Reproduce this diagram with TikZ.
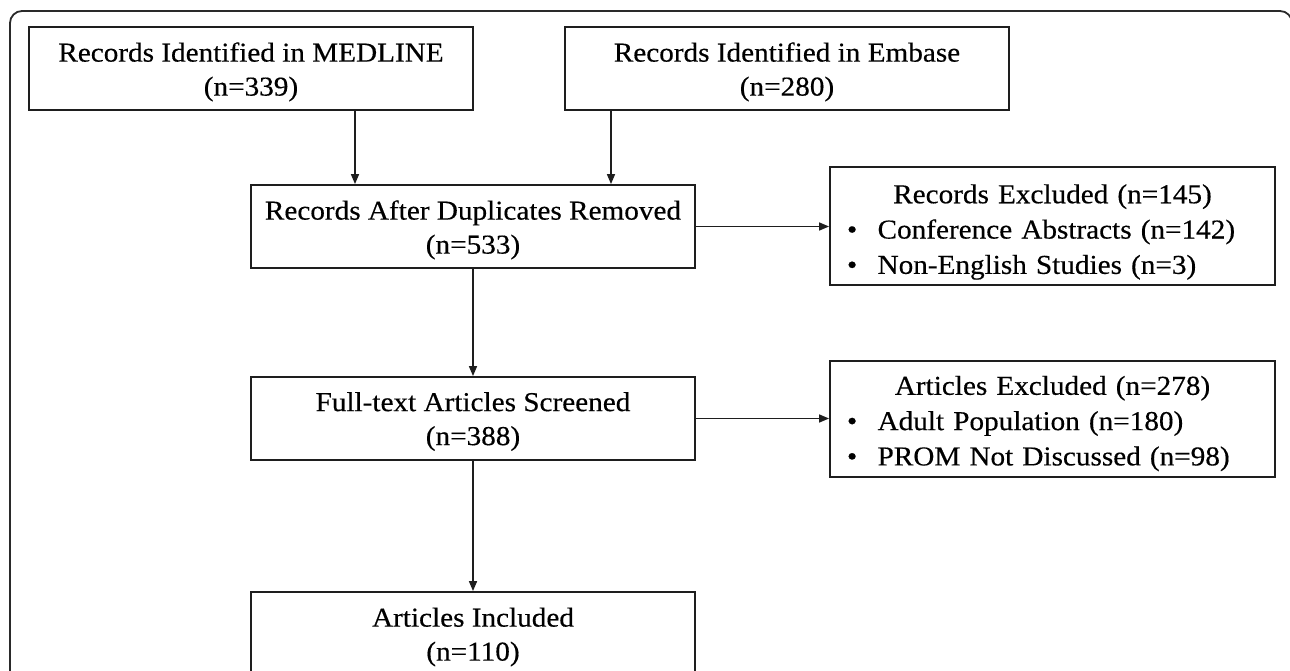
\documentclass[tikz,border=0pt]{standalone}
\usepackage{fontspec}
\setmainfont{Liberation Serif}[FakeStretch=1.07,FakeBold=0.4]
\usetikzlibrary{arrows.meta,calc}
\definecolor{lin}{HTML}{1E1E1E}
\definecolor{frm}{HTML}{2A2A2A}
\newcommand{\firstup}[1]{\rule{0pt}{#1}}
\begin{document}
\begin{tikzpicture}[x=1pt,y=-1pt,
  mainbox/.style={draw=lin, line width=1.8pt, minimum width=444pt, minimum height=83pt,
    align=center, inner sep=0pt, font=\fontsize{27.3}{34}\selectfont},
  exbox/.style={draw=lin, line width=1.8pt, minimum width=445pt, text width=411pt,
    inner xsep=17pt, inner ysep=0pt, align=left, font=\fontsize{27.3}{35.3}\selectfont},
  arr/.style={draw=lin, line width=1.6pt, -{Triangle[length=10pt,width=8pt]}},
  frame/.style={draw=frm, line width=1.8pt, rounded corners=12pt}]
\useasboundingbox (0,0) rectangle (1290,671);
\clip (0,0) rectangle (1290,671);
\draw[frame] (10,720) -- (10,11) -- (1292,11) -- (1292,720);
\node[mainbox] (med) at (251,68.5) {\firstup{26pt}Records Identified in MEDLINE\\(n=339)};
\node[mainbox] (emb) at (787,68.5) {\firstup{26pt}Records Identified in Embase\\(n=280)};
\node[mainbox] (dup) at (473,226.5) {\firstup{26pt}Records After Duplicates Removed\\(n=533)};
\node[mainbox] (ft) at (473,418.5) {\firstup{25pt}Full-text Articles Screened\\(n=388)};
\node[mainbox] (inc) at (473,633.5) {\firstup{26pt}Articles Included\\(n=110)};
\node[exbox, minimum height=118pt] (rexc) at (1052.5,226) {\firstup{31pt}\makebox[\linewidth]{Records Excluded (n=145)}\\
  \makebox[30.6pt][l]{\textbullet}Conference Abstracts (n=142)\\
  \makebox[30.6pt][l]{\textbullet}Non-English Studies (n=3)};
\node[exbox, minimum height=116pt] (aexc) at (1052.5,419) {\firstup{28pt}\makebox[\linewidth]{Articles Excluded (n=278)}\\
  \makebox[30.6pt][l]{\textbullet}Adult Population (n=180)\\
  \makebox[30.6pt][l]{\textbullet}PROM Not Discussed (n=98)};
\draw[arr] ([xshift=104pt]med.south) -- ([xshift=104pt]med.south |- dup.north);
\draw[arr] ([xshift=-176pt]emb.south) -- ([xshift=-176pt]emb.south |- dup.north);
\draw[arr] (dup.east) -- (dup.east -| rexc.west);
\draw[arr] (dup.south) -- (ft.north);
\draw[arr] (ft.east) -- (ft.east -| aexc.west);
\draw[arr] (ft.south) -- (inc.north);
\end{tikzpicture}
\end{document}
